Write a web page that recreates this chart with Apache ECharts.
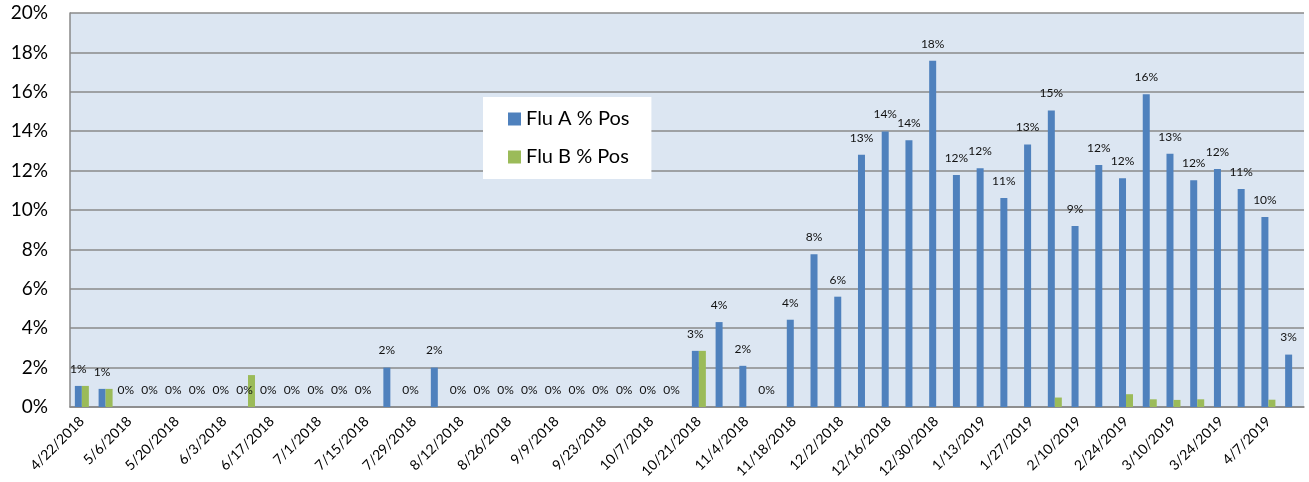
<!DOCTYPE html>
<html>
<head>
<meta charset="utf-8">
<script src="https://cdn.jsdelivr.net/npm/echarts@6/dist/echarts.min.js"></script>
<style>
  html, body { margin: 0; padding: 0; background: #fff; }
  #main { width: 1309px; height: 482px; }
</style>
</head>
<body>
<div id="main"></div>
<script>
// weekly categories
var weeks = [
  '4/22/2018', '4/29/2018', '5/6/2018', '5/13/2018', '5/20/2018', '5/27/2018',
  '6/3/2018', '6/10/2018', '6/17/2018', '6/24/2018', '7/1/2018', '7/8/2018',
  '7/15/2018', '7/22/2018', '7/29/2018', '8/5/2018', '8/12/2018', '8/19/2018',
  '8/26/2018', '9/2/2018', '9/9/2018', '9/16/2018', '9/23/2018', '9/30/2018',
  '10/7/2018', '10/14/2018', '10/21/2018', '10/28/2018', '11/4/2018', '11/11/2018',
  '11/18/2018', '11/25/2018', '12/2/2018', '12/9/2018', '12/16/2018', '12/23/2018',
  '12/30/2018', '1/6/2019', '1/13/2019', '1/20/2019', '1/27/2019', '2/3/2019',
  '2/10/2019', '2/17/2019', '2/24/2019', '3/3/2019', '3/10/2019', '3/17/2019',
  '3/24/2019', '3/31/2019', '4/7/2019', '4/14/2019'
];

var fluA = [
  1.07, 0.92, 0, 0, 0, 0, 0, 0, 0, 0, 0, 0,
  0, 2.0, 0, 2.0, 0, 0, 0, 0, 0, 0, 0, 0,
  0, 0, 2.85, 4.31, 2.09, 0, 4.43, 7.75, 5.6, 12.8, 13.98, 13.54,
  17.57, 11.78, 12.12, 10.61, 13.32, 15.05, 9.19, 12.29, 11.61, 15.88, 12.86, 11.51,
  12.08, 11.07, 9.64, 2.66
];

var fluB = [
  1.07, 0.92, 0, 0, 0, 0, 0, 1.62, 0, 0, 0, 0,
  0, 0, 0, 0, 0, 0, 0, 0, 0, 0, 0, 0,
  0, 0, 2.85, 0, 0, 0, 0, 0, 0, 0, 0, 0,
  0, 0, 0, 0, 0, 0.48, 0, 0, 0.65, 0.39, 0.36, 0.39,
  0, 0, 0.37, 0
];

var yTicks = [0, 2, 4, 6, 8, 10, 12, 14, 16, 18, 20];

var font = 'Lato, "Liberation Sans", sans-serif';
var myChart = echarts.init(document.getElementById('main'));

var option = {
  animation: false,
  textStyle: { fontFamily: font },
  grid: {
    left: 70,
    right: 5,
    top: 13,
    bottom: 75,
    show: true,
    backgroundColor: '#dce6f2',
    borderWidth: 0
  },
  legend: {
    data: ['Flu A % Pos', 'Flu B % Pos'],
    orient: 'vertical',
    left: 483,
    top: 97,
    backgroundColor: '#ffffff',
    padding: [12, 22, 12, 25],
    itemGap: 18,
    itemWidth: 13,
    itemHeight: 13,
    icon: 'rect',
    textStyle: { fontSize: 20, color: '#000', fontFamily: font }
  },
  xAxis: {
    type: 'category',
    data: weeks,
    axisTick: { show: false },
    axisLine: { lineStyle: { color: '#888', width: 1.5 } },
    axisLabel: {
      interval: 1,
      rotate: 45,
      fontSize: 14,
      color: '#000',
      margin: 12
    }
  },
  yAxis: {
    type: 'value',
    min: yTicks[0],
    max: yTicks[yTicks.length - 1],
    interval: 2,
    axisLine: { show: true, lineStyle: { color: '#888', width: 1.5 } },
    axisTick: { show: false },
    splitLine: { lineStyle: { color: '#8a8a8a', width: 1.5 } },
    axisLabel: {
      fontSize: 19,
      color: '#000',
      margin: 22,
      formatter: function (v) { return v + '%'; }
    }
  },
  series: [
    {
      name: 'Flu A % Pos',
      type: 'bar',
      data: fluA,
      barWidth: 7,
      barGap: '0%',
      itemStyle: { color: '#4f81bd' },
      label: {
        show: true,
        position: 'top',
        distance: 11,
        fontSize: 12,
        color: '#111',
        formatter: function (p) { return Math.round(p.value) + '%'; }
      }
    },
    {
      name: 'Flu B % Pos',
      type: 'bar',
      data: fluB,
      barWidth: 7,
      itemStyle: { color: '#9bbb59' }
    }
  ]
};
myChart.setOption(option);
</script>
</body>
</html>
